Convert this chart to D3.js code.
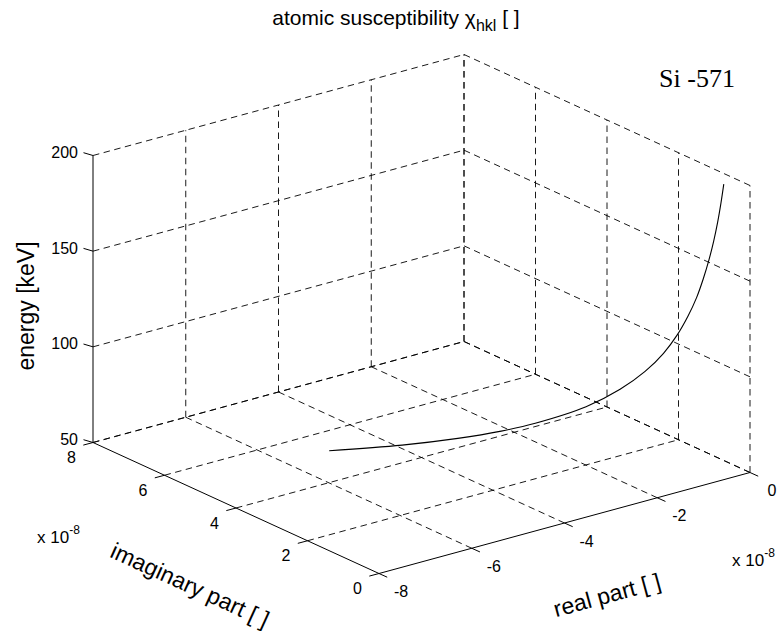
<!DOCTYPE html>
<html>
<head>
<meta charset="utf-8">
<script src="https://cdn.jsdelivr.net/npm/d3@7"></script>
<style>
  html, body { margin: 0; padding: 0; background: #fff; }
  svg text { font-family: "Liberation Sans", Arial, Helvetica, sans-serif; fill: #000; }
</style>
</head>
<body>
<svg id="chart" width="782" height="631"></svg>
<script>
// Energy sweep of the Si (-5 7 1) atomic susceptibility, parts in units of 1e-8
const energyKeV = [50, 55, 60, 65, 70, 80, 90, 100, 110, 120, 130, 140, 150, 160, 170, 180, 190, 200];
const realPart  = [-5.05, -4.18, -3.51, -2.99, -2.58, -1.97, -1.56, -1.26, -1.04, -0.875, -0.745, -0.643, -0.560, -0.492, -0.436, -0.389, -0.349, -0.315];
const imagPart  = [5.22, 4.31, 3.62, 3.08, 2.66, 2.03, 1.61, 1.30, 1.07, 0.90, 0.77, 0.66, 0.58, 0.51, 0.45, 0.40, 0.36, 0.325];

const realTicks   = [-8, -6, -4, -2, 0];
const imagTicks   = [0, 2, 4, 6, 8];
const energyTicks = [50, 100, 150, 200];
const exponentLabel = "-8";

const svg = d3.select("#chart");

// normalised axes of the box
const rs = d3.scaleLinear().domain([-8, 0]).range([0, 1]);
const is = d3.scaleLinear().domain([0, 8]).range([0, 1]);
const es = d3.scaleLinear().domain([50, 200]).range([0, 1]);

// orthographic view: origin is the front-bottom corner (real -8, imag 0, 50 keV)
const O  = [379, 573.5];
const Ux = [371, -101];
const Uy = [-286, -131];
const Uz = [0, -287];

function proj(re, im, en) {
  const a = rs(re), b = is(im), c = es(en);
  return [O[0] + Ux[0] * a + Uy[0] * b + Uz[0] * c,
          O[1] + Ux[1] * a + Uy[1] * b + Uz[1] * c];
}

const gGrid = svg.append("g")
  .attr("fill", "none")
  .attr("stroke", "#000")
  .attr("stroke-width", 0.9)
  .attr("stroke-dasharray", "6.5,4.5");

function seg(g, p, q) {
  g.append("line")
    .attr("x1", p[0]).attr("y1", p[1])
    .attr("x2", q[0]).attr("y2", q[1]);
}

const rMin = d3.min(realTicks), rMax = d3.max(realTicks);
const iMin = d3.min(imagTicks), iMax = d3.max(imagTicks);
const eMin = d3.min(energyTicks), eMax = d3.max(energyTicks);

// floor grid
realTicks.forEach(r => { if (r !== rMin) seg(gGrid, proj(r, iMin, eMin), proj(r, iMax, eMin)); });
imagTicks.forEach(i => { if (i !== iMin) seg(gGrid, proj(rMin, i, eMin), proj(rMax, i, eMin)); });
// back wall at maximum imaginary part
realTicks.forEach(r => { if (r !== rMin) seg(gGrid, proj(r, iMax, eMin), proj(r, iMax, eMax)); });
energyTicks.forEach(e => seg(gGrid, proj(rMin, iMax, e), proj(rMax, iMax, e)));
// back wall at zero real part
imagTicks.forEach(i => seg(gGrid, proj(rMax, i, eMin), proj(rMax, i, eMax)));
energyTicks.forEach(e => seg(gGrid, proj(rMax, iMin, e), proj(rMax, iMax, e)));

// solid axes
const gAxis = svg.append("g").attr("stroke", "#000").attr("stroke-width", 1).attr("fill", "none");
seg(gAxis, proj(rMin, iMax, eMin), proj(rMin, iMax, eMax));   // energy
seg(gAxis, proj(rMin, iMax, eMin), proj(rMin, iMin, eMin));   // imaginary
seg(gAxis, proj(rMin, iMin, eMin), proj(rMax, iMin, eMin));   // real

const tickFont = 16;
const labelFont = 23;

// energy ticks and labels
energyTicks.forEach(e => {
  const p = proj(rMin, iMax, e);
  seg(gAxis, p, [p[0] - 9.5, p[1] - 2.8]);
  svg.append("text")
    .attr("x", p[0] - 15).attr("y", p[1] - 3)
    .attr("text-anchor", "end").attr("dominant-baseline", "central")
    .attr("font-size", tickFont).text(e);
});

// imaginary ticks and labels
imagTicks.forEach(i => {
  const p = proj(rMin, i, eMin);
  seg(gAxis, p, [p[0] - 9.7, p[1] + 2.6]);
  svg.append("text")
    .attr("x", p[0] - 21.5).attr("y", p[1] + 15)
    .attr("text-anchor", "middle").attr("dominant-baseline", "central")
    .attr("font-size", tickFont).text(i);
});

// real ticks and labels
realTicks.forEach(r => {
  const p = proj(r, iMin, eMin);
  seg(gAxis, p, [p[0] + 8.2, p[1] + 3.7]);
  svg.append("text")
    .attr("x", p[0] + 22).attr("y", p[1] + 18)
    .attr("text-anchor", "middle").attr("dominant-baseline", "central")
    .attr("font-size", tickFont).text(r);
});

// exponent markers
function exponent(x, y) {
  const t = svg.append("text").attr("x", x).attr("y", y).attr("font-size", 17);
  t.append("tspan").text("x 10");
  t.append("tspan").attr("dy", -9).attr("font-size", 12).text(exponentLabel);
}
exponent(37, 543);
exponent(732, 566);

// axis titles
svg.append("text")
  .attr("transform", "translate(34,306) rotate(-90)")
  .attr("text-anchor", "middle")
  .attr("font-size", labelFont).text("energy [keV]");

const angImag = Math.atan2(-Uy[1], -Uy[0]) * 180 / Math.PI;
svg.append("text")
  .attr("transform", `translate(190,585) rotate(${angImag})`)
  .attr("text-anchor", "middle").attr("dominant-baseline", "central")
  .attr("font-size", labelFont).text("imaginary part [ ]");

const angReal = Math.atan2(Ux[1], Ux[0]) * 180 / Math.PI;
svg.append("text")
  .attr("transform", `translate(607,595) rotate(${angReal})`)
  .attr("text-anchor", "middle").attr("dominant-baseline", "central")
  .attr("font-size", labelFont).text("real part [ ]");

// title
const title = svg.append("text")
  .attr("x", 396).attr("y", 25)
  .attr("text-anchor", "middle")
  .attr("font-size", 21);
title.append("tspan").text("atomic susceptibility \u03C7");
title.append("tspan").attr("dy", 6).attr("font-size", 16).text("hkl");
title.append("tspan").attr("dy", -6).text(" [ ]");

// reflection label
svg.append("text")
  .attr("x", 697).attr("y", 87)
  .attr("text-anchor", "middle")
  .style("font-family", "'Liberation Serif', 'Times New Roman', serif")
  .attr("font-size", 26).text("Si -571");

// susceptibility curve
const pts = energyKeV.map((e, k) => proj(realPart[k], imagPart[k], e));
svg.append("path")
  .attr("d", d3.line().curve(d3.curveCatmullRom)(pts))
  .attr("fill", "none")
  .attr("stroke", "#000")
  .attr("stroke-width", 1.1);
</script>
</body>
</html>
